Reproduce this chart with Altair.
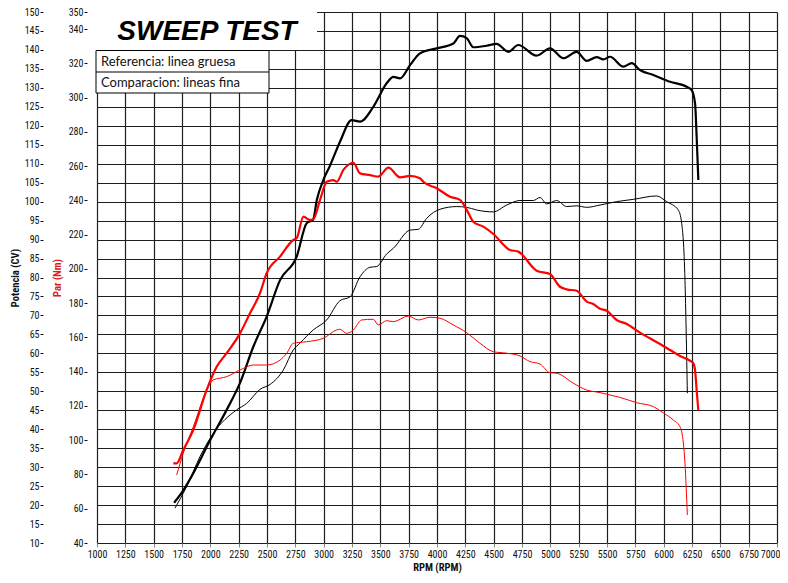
import altair as alt
import pandas as pd

# ---------------- data ----------------
# Potencia referencia (linea gruesa), CV
pref_rpm = [1680, 1760, 1850, 2000, 2144, 2262, 2380, 2497, 2615, 2762, 2850, 2906, 2940, 2997,
            3056, 3144, 3247, 3321, 3438, 3556, 3615, 3674, 3762, 3850, 3997, 4144, 4203, 4262,
            4320, 4438, 4526, 4629, 4717, 4879, 4997, 5115, 5232, 5321, 5409, 5468, 5527, 5644,
            5718, 5791, 5909, 6056, 6203, 6247, 6277, 6291, 6306]
pref_cv = [20.6, 23.8, 28.4, 37.2, 45.1, 52.2, 61.8, 69.7, 79.3, 85.5, 94.3, 95.2, 100.5, 105.7,
           109.5, 115.8, 121.5, 121.1, 125.0, 131.2, 132.9, 132.5, 136.0, 139.1, 140.4, 141.7, 143.7, 143.1,
           140.7, 141.1, 141.6, 139.5, 141.3, 138.5, 140.4, 137.8, 139.5, 137.1, 138.1, 137.5, 138.2, 135.6,
           136.5, 134.7, 133.4, 131.6, 130.3, 129.4, 125.9, 117.1, 105.7]

# Potencia comparacion (linea fina), CV
pcmp_rpm = [1688, 1791, 1909, 2026, 2232, 2321, 2438, 2527, 2644, 2732, 2791, 2909, 3027, 3144,
            3232, 3321, 3409, 3468, 3556, 3615, 3762, 3835, 3909, 4027, 4174, 4262, 4350, 4497,
            4615, 4732, 4850, 4909, 4968, 5056, 5144, 5232, 5321, 5438, 5585, 5732, 5938, 6026,
            6129, 6159, 6188, 6209]
pcmp_cv = [19.2, 24.9, 32.8, 38.9, 45.1, 46.8, 50.5, 51.8, 55.6, 60.9, 62.7, 66.2, 68.8, 73.9,
           74.9, 80.2, 82.7, 82.9, 86.2, 87.7, 92.5, 92.7, 95.6, 98.0, 98.7, 98.5, 97.8, 97.3,
           99.1, 100.3, 100.3, 101.1, 99.4, 100.3, 98.7, 98.9, 98.5, 99.1, 100.0, 100.6, 101.5, 100.0,
           97.8, 94.3, 79.3, 49.5]

# Par referencia (linea gruesa), Nm
tref_rpm = [1673, 1703, 1761, 1850, 1967, 2056, 2144, 2262, 2350, 2438, 2497, 2615, 2732, 2762,
            2821, 2879, 2909, 2968, 3027, 3085, 3115, 3174, 3262, 3321, 3409, 3482, 3571, 3674,
            3762, 3850, 3879, 3997, 4115, 4203, 4262, 4320, 4409, 4497, 4644, 4717, 4879, 4997,
            5085, 5144, 5232, 5321, 5379, 5438, 5497, 5585, 5674, 5791, 5879, 5968, 6056, 6144,
            6232, 6262, 6277, 6291, 6306]
tref_nm = [86.5, 86.5, 94.3, 106.0, 129.3, 142.9, 150.8, 162.4, 174.1, 185.8, 197.5, 207.2, 216.9, 217.9,
           230.5, 228.6, 229.0, 240.3, 250.9, 251.9, 250.9, 257.8, 262.0, 255.8, 254.8, 253.9, 259.1, 253.5,
           254.3, 252.9, 250.9, 247.1, 242.2, 240.3, 234.5, 227.6, 224.7, 220.4, 211.1, 210.1, 199.0, 197.0,
           189.6, 188.1, 187.3, 180.9, 179.5, 176.8, 175.6, 170.2, 167.9, 162.8, 159.5, 156.2, 152.7, 149.2,
           146.4, 144.9, 141.0, 129.3, 117.3]

# Par comparacion (linea fina), Nm
tcmp_rpm = [1703, 1761, 1850, 1982, 2026, 2144, 2262, 2379, 2497, 2615, 2674, 2732, 2850, 2997,
            3115, 3144, 3203, 3262, 3335, 3438, 3482, 3556, 3615, 3747, 3835, 3938, 4027, 4144,
            4262, 4379, 4497, 4615, 4732, 4820, 4909, 4997, 5056, 5203, 5321, 5438, 5527, 5615,
            5762, 5909, 5997, 6085, 6144, 6159, 6188, 6209]
tcmp_nm = [79.7, 92.4, 107.9, 131.3, 135.2, 137.1, 141.0, 143.9, 143.9, 146.8, 150.8, 156.6, 157.5, 159.5,
           164.4, 164.8, 162.4, 164.4, 170.2, 170.6, 167.3, 169.8, 169.2, 172.5, 170.2, 171.8, 171.2, 167.3,
           162.8, 156.6, 151.7, 150.8, 149.2, 145.9, 144.5, 139.4, 139.1, 133.3, 129.3, 127.8, 126.4, 125.0,
           121.9, 119.6, 116.0, 111.8, 107.9, 105.0, 86.5, 56.4]

rpm_ticks = list(range(1000, 7001, 250))
cv_ticks = list(range(10, 151, 5))
nm_ticks = list(range(40, 341, 20)) + [350]

title_text = "SWEEP TEST"
legend_lines = ["Referencia: linea gruesa", "Comparacion: lineas fina"]

# ---------------- tables ----------------
def frame(rpm, val, series, width):
    return pd.DataFrame({"rpm": rpm, "v": val, "series": series, "w": width,
                         "idx": list(range(len(rpm)))})

df_cv = pd.concat([frame(pref_rpm, pref_cv, "ref", "thick"),
                   frame(pcmp_rpm, pcmp_cv, "cmp", "thin")], ignore_index=True)
df_nm = pd.concat([frame(tref_rpm, tref_nm, "ref", "thick"),
                   frame(tcmp_rpm, tcmp_nm, "cmp", "thin")], ignore_index=True)

NARROW = "Liberation Sans Narrow, Arial Narrow, Roboto Condensed, Liberation Sans, sans-serif"
GRID = "#1e1e1e"

x_enc = alt.X("rpm:Q",
              scale=alt.Scale(domain=[1000, 7000], nice=False, zero=False),
              axis=alt.Axis(values=rpm_ticks, title="RPM (RPM)", grid=True,
                            gridColor=GRID, gridWidth=1.2, gridOpacity=1,
                            domain=False, tickSize=4, tickColor="#888",
                            labelPadding=2, labelFontSize=10, labelFont=NARROW,
                            labelColor="#111", labelOverlap=False, labelAngle=0,
                            labelFlush=False,
                            labelAlign={"condition": {"test": "datum.value >= 7000", "value": "right"},
                                        "value": "center"},
                            labelOffset={"condition": {"test": "datum.value >= 7000", "value": 3},
                                         "value": 0},
                            titleFont=NARROW, titleFontSize=10.5, titleFontWeight="bold",
                            titleColor="#111", titlePadding=3, format="d"))

sw = alt.StrokeWidth("w:N", scale=alt.Scale(domain=["thick", "thin"], range=[2.2, 1.0]), legend=None)

cv_layer = alt.Chart(df_cv).mark_line(interpolate="monotone", color="black").encode(
    x=x_enc,
    y=alt.Y("v:Q",
            scale=alt.Scale(domain=[10, 150], nice=False, zero=False),
            axis=alt.Axis(orient="left", offset=54, values=cv_ticks, title="Potencia (CV)",
                          grid=True, gridColor=GRID, gridWidth=1.2, gridOpacity=1,
                          domain=False, tickSize=3, tickColor="#111", labelPadding=1,
                          labelFontSize=10, labelFont=NARROW, labelColor="#111",
                          labelOverlap=False, labelFlush=False, titleFont=NARROW,
                          titleFontSize=10.5, titleFontWeight="bold", titleColor="#111",
                          titlePadding=4)),
    strokeWidth=sw,
    detail="series:N",
    order="idx:Q",
)

nm_layer = alt.Chart(df_nm).mark_line(interpolate="monotone", color="#ff0000").encode(
    x=x_enc,
    y=alt.Y("v:Q",
            scale=alt.Scale(domain=[40, 350], nice=False, zero=False),
            axis=alt.Axis(orient="left", offset=10, values=nm_ticks, title="Par (Nm)",
                          grid=False, domain=False, tickSize=3, tickColor="#111",
                          labelPadding=1, labelFontSize=10, labelFont=NARROW,
                          labelColor="#111", labelOverlap=False, labelFlush=False,
                          titleFont=NARROW, titleFontSize=10.5, titleFontWeight="bold",
                          titleColor="#e02020", titlePadding=6)),
    strokeWidth=sw,
    detail="series:N",
    order="idx:Q",
)

one = pd.DataFrame({"k": [0]})

title_box = alt.Chart(one).mark_rect(fill="white").encode(
    x=alt.value(-1), x2=alt.value(220), y=alt.value(-1), y2=alt.value(38))
title_mark = alt.Chart(one).mark_text(
    text=title_text, font="Liberation Sans", fontSize=28, fontWeight="bold",
    fontStyle="italic", color="black", align="center", baseline="alphabetic").encode(
    x=alt.value(110), y=alt.value(28))

legend_box = alt.Chart(one).mark_rect(fill="white", stroke="black", strokeWidth=1).encode(
    x=alt.value(-1), x2=alt.value(172), y=alt.value(38.5), y2=alt.value(81))
legend_div = alt.Chart(one).mark_rule(color="black", strokeWidth=1).encode(
    x=alt.value(-1), x2=alt.value(172), y=alt.value(60))
leg1 = alt.Chart(one).mark_text(text=legend_lines[0], font="Lato", fontSize=13,
                                color="#111", align="left", baseline="middle").encode(
    x=alt.value(4), y=alt.value(49.5))
leg2 = alt.Chart(one).mark_text(text=legend_lines[1], font="Lato", fontSize=13,
                                color="#111", align="left", baseline="middle").encode(
    x=alt.value(4), y=alt.value(71))

chart = alt.layer(cv_layer, nm_layer, title_box, title_mark, legend_box, legend_div, leg1, leg2
                  ).resolve_scale(y="independent").properties(
    width=680, height=531,
    autosize=alt.AutoSizeParams(type="none"),
    padding={"left": 89, "top": 4, "right": 3, "bottom": 32},
).configure_view(stroke="#999", strokeWidth=1).configure(background="white")

chart.save("out.html", embed_options={"renderer": "svg", "actions": False})
